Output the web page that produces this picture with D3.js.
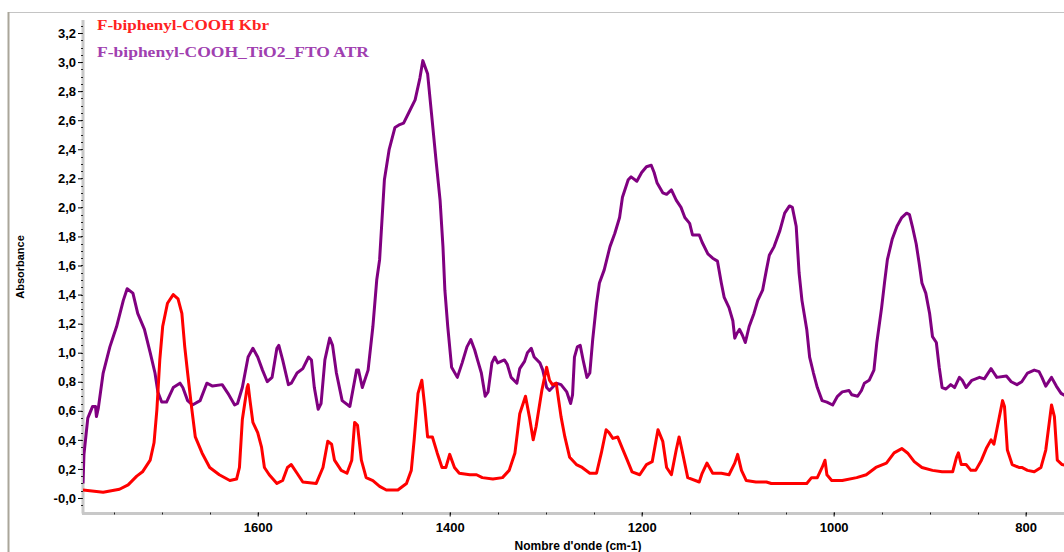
<!DOCTYPE html>
<html>
<head>
<meta charset="utf-8">
<script src="https://cdn.jsdelivr.net/npm/d3@7"></script>
<style>
  html, body { margin: 0; padding: 0; background: #fff; }
  #chart { width: 1064px; height: 552px; overflow: hidden; }
</style>
</head>
<body>
<div id="chart"></div>
<script>
// Spectra: [wavenumber (cm-1), absorbance]
const kbrSpectrum = [
  [1782,0.055],[1761,0.04],[1744,0.06],[1735,0.09],[1726,0.15],[1720,0.18],[1712,0.26],[1708,0.38],
  [1705,0.61],[1702,0.95],[1699,1.18],[1694,1.34],[1688,1.40],[1683,1.37],[1679,1.27],[1676,1.04],
  [1673,0.86],[1669,0.63],[1665,0.42],[1658,0.31],[1650,0.21],[1640,0.16],[1629,0.12],[1622,0.13],
  [1619,0.21],[1616,0.54],[1611,0.76],[1610,0.78],[1608,0.67],[1605,0.52],[1600,0.45],[1596,0.35],
  [1593,0.21],[1588,0.16],[1580,0.10],[1574,0.12],[1569,0.21],[1565,0.23],[1559,0.17],[1553,0.11],
  [1539,0.10],[1532,0.21],[1527,0.39],[1523,0.37],[1520,0.26],[1513,0.19],[1507,0.17],[1502,0.26],
  [1499,0.52],[1496,0.50],[1492,0.26],[1487,0.14],[1480,0.12],[1473,0.08],[1466,0.055],[1454,0.055],
  [1445,0.10],[1440,0.19],[1437,0.40],[1433,0.72],[1429,0.81],[1426,0.63],[1423,0.42],[1418,0.42],
  [1413,0.31],[1408,0.21],[1404,0.21],[1400,0.30],[1395,0.21],[1390,0.17],[1379,0.16],[1372,0.16],
  [1366,0.14],[1355,0.13],[1345,0.14],[1338,0.19],[1332,0.31],[1327,0.58],[1321,0.70],[1317,0.56],
  [1313,0.40],[1310,0.49],[1304,0.74],[1299,0.90],[1296,0.81],[1293,0.78],[1289,0.79],[1284,0.56],
  [1280,0.42],[1275,0.28],[1268,0.23],[1262,0.21],[1254,0.17],[1247,0.17],[1242,0.31],[1237,0.47],
  [1234,0.45],[1230,0.41],[1225,0.42],[1220,0.34],[1215,0.26],[1210,0.18],[1202,0.16],[1195,0.23],
  [1189,0.25],[1183,0.47],[1178,0.39],[1174,0.21],[1169,0.16],[1164,0.33],[1161,0.42],[1158,0.33],
  [1152,0.14],[1140,0.11],[1137,0.17],[1132,0.24],[1126,0.17],[1117,0.17],[1109,0.16],[1103,0.24],
  [1100,0.30],[1096,0.19],[1091,0.12],[1081,0.11],[1070,0.11],[1065,0.10],[1043,0.10],[1028,0.10],
  [1023,0.14],[1017,0.14],[1012,0.21],[1009,0.26],[1007,0.16],[1002,0.12],[991,0.12],[976,0.14],
  [966,0.16],[956,0.21],[945,0.24],[937,0.31],[929,0.34],[923,0.31],[916,0.25],[908,0.21],
  [897,0.19],[887,0.18],[876,0.18],[872,0.28],[870,0.31],[867,0.23],[862,0.23],[857,0.19],
  [852,0.19],[846,0.26],[841,0.34],[836,0.40],[833,0.37],[830,0.47],[824,0.67],[822,0.63],
  [819,0.33],[814,0.23],[807,0.21],[804,0.21],[798,0.19],[791,0.18],[784,0.21],[779,0.33],
  [773,0.64],[770,0.56],[767,0.26],[762,0.23],[755,0.22]
];

const atrSpectrum = [
  [1782,0.10],[1781,0.30],[1777,0.55],[1772,0.63],[1769,0.63],[1768,0.56],[1766,0.62],[1761,0.86],
  [1754,1.04],[1747,1.18],[1740,1.36],[1736,1.44],[1730,1.41],[1725,1.27],[1718,1.16],[1712,1.00],
  [1707,0.86],[1704,0.73],[1700,0.66],[1695,0.66],[1688,0.76],[1681,0.79],[1678,0.76],[1673,0.67],
  [1668,0.64],[1660,0.67],[1653,0.79],[1647,0.77],[1637,0.78],[1631,0.72],[1624,0.64],[1621,0.65],
  [1616,0.76],[1610,0.97],[1605,1.03],[1600,0.97],[1595,0.88],[1590,0.80],[1585,0.83],[1580,1.03],
  [1578,1.05],[1574,0.95],[1568,0.78],[1565,0.79],[1559,0.86],[1553,0.89],[1547,0.97],[1544,0.95],
  [1541,0.76],[1537,0.61],[1534,0.65],[1530,0.95],[1525,1.10],[1522,1.05],[1518,0.86],[1512,0.67],
  [1504,0.63],[1497,0.88],[1495,0.88],[1491,0.76],[1485,0.88],[1480,1.18],[1476,1.50],[1473,1.64],
  [1468,2.19],[1463,2.40],[1457,2.55],[1452,2.57],[1448,2.58],[1442,2.66],[1436,2.74],[1431,2.89],
  [1428,3.01],[1423,2.92],[1419,2.65],[1414,2.31],[1410,2.05],[1407,1.73],[1405,1.43],[1402,1.18],
  [1398,0.90],[1392,0.83],[1387,0.93],[1382,1.04],[1378,1.09],[1374,1.02],[1371,0.95],[1367,0.86],
  [1363,0.70],[1360,0.73],[1356,0.93],[1353,0.97],[1350,0.93],[1343,0.95],[1340,0.92],[1336,0.83],
  [1330,0.79],[1327,0.89],[1322,0.94],[1319,1.00],[1315,1.03],[1312,0.97],[1306,0.93],[1303,0.88],
  [1299,0.76],[1296,0.74],[1293,0.76],[1289,0.79],[1284,0.78],[1278,0.73],[1274,0.65],[1272,0.71],
  [1270,0.97],[1267,1.04],[1264,1.05],[1261,0.95],[1257,0.83],[1254,0.86],[1251,1.09],[1247,1.34],
  [1244,1.48],[1239,1.57],[1233,1.73],[1228,1.82],[1223,1.93],[1220,2.07],[1214,2.19],[1211,2.21],
  [1205,2.18],[1200,2.24],[1195,2.28],[1190,2.29],[1187,2.24],[1184,2.17],[1178,2.10],[1174,2.09],
  [1169,2.12],[1164,2.05],[1159,2.00],[1155,1.93],[1150,1.89],[1147,1.81],[1140,1.81],[1137,1.76],
  [1131,1.68],[1126,1.65],[1121,1.63],[1117,1.48],[1114,1.38],[1109,1.31],[1105,1.22],[1103,1.10],
  [1101,1.13],[1098,1.16],[1095,1.12],[1092,1.07],[1088,1.18],[1083,1.27],[1079,1.36],[1074,1.43],
  [1070,1.57],[1067,1.67],[1062,1.73],[1056,1.84],[1051,1.96],[1046,2.01],[1043,2.00],[1039,1.87],
  [1036,1.55],[1033,1.36],[1028,1.16],[1025,0.97],[1021,0.86],[1017,0.76],[1012,0.67],[1007,0.66],
  [1001,0.64],[996,0.70],[991,0.73],[984,0.74],[981,0.71],[975,0.70],[971,0.74],[968,0.79],
  [963,0.81],[958,0.88],[955,1.07],[950,1.31],[947,1.48],[944,1.64],[939,1.78],[934,1.87],
  [929,1.93],[924,1.96],[921,1.95],[918,1.87],[914,1.75],[911,1.62],[908,1.48],[904,1.41],
  [900,1.27],[897,1.11],[893,1.07],[890,0.90],[887,0.76],[883,0.75],[878,0.78],[874,0.76],
  [869,0.83],[866,0.81],[862,0.76],[856,0.81],[848,0.83],[843,0.82],[836,0.89],[833,0.86],
  [830,0.83],[820,0.84],[815,0.80],[809,0.78],[804,0.80],[798,0.86],[791,0.88],[786,0.87],
  [783,0.83],[779,0.77],[773,0.83],[768,0.77],[763,0.72],[758,0.70]
];

const seriesNames = ["F-biphenyl-COOH Kbr", "F-biphenyl-COOH_TiO2_FTO ATR"];
const xTicks = [1600, 1400, 1200, 1000, 800];
const yTicks = [0, 0.2, 0.4, 0.6, 0.8, 1.0, 1.2, 1.4, 1.6, 1.8, 2.0, 2.2, 2.4, 2.6, 2.8, 3.0, 3.2];

const width = 1064, height = 552;
const plotLeft = 83, plotRight = 1064, plotTop = 18.5, plotBottom = 512.5;

const svg = d3.select("#chart").append("svg")
  .attr("width", width)
  .attr("height", height);

const x = d3.scaleLinear().domain([1782, 760]).range([plotLeft, plotRight]);
const y = d3.scaleLinear().domain([-0.1, 3.3]).range([plotBottom, plotTop]);

// window frame
svg.append("line").attr("x1", 8).attr("x2", width).attr("y1", 12.5).attr("y2", 12.5)
  .attr("stroke", "#c4c4c4").attr("stroke-width", 1);
svg.append("line").attr("x1", 8.5).attr("x2", 8.5).attr("y1", 12).attr("y2", height)
  .attr("stroke", "#aaa69a").attr("stroke-width", 2);

svg.append("clipPath").attr("id", "plot")
  .append("rect").attr("x", plotLeft).attr("y", 12)
  .attr("width", plotRight - plotLeft).attr("height", plotBottom - 12);

// axis lines
svg.append("line").attr("x1", plotLeft).attr("x2", plotLeft).attr("y1", 20).attr("y2", plotBottom + 1)
  .attr("stroke", "#c8c8c8").attr("stroke-width", 3);
svg.append("line").attr("x1", plotLeft - 1).attr("x2", width).attr("y1", plotBottom + 1).attr("y2", plotBottom + 1)
  .attr("stroke", "#c8c8c8").attr("stroke-width", 3);

// y minor ticks
const yMinor = d3.range(-0.05, 3.3, 0.05);
svg.append("g").selectAll("line").data(yMinor).join("line")
  .attr("x1", plotLeft - 2).attr("x2", plotLeft)
  .attr("y1", d => Math.round(y(d)) + 0.5).attr("y2", d => Math.round(y(d)) + 0.5)
  .attr("stroke", "#222").attr("stroke-width", 1);

const yAxis = svg.append("g")
  .attr("transform", `translate(${plotLeft - 1},0)`)
  .call(d3.axisLeft(y).tickValues(yTicks).tickSize(4).tickPadding(2)
    .tickFormat(d => d === 0 ? "-0,0" : d3.format(".1f")(d).replace(".", ",")));
yAxis.select(".domain").remove();
yAxis.selectAll("text")
  .attr("font-family", "Liberation Sans, Arial, sans-serif")
  .attr("font-weight", "bold").attr("font-size", 13).attr("fill", "#000");

// x minor ticks every 50
const xMinor = d3.range(1750, 755, -50);
svg.append("g").selectAll("line").data(xMinor).join("line")
  .attr("x1", d => Math.round(x(d)) + 0.5).attr("x2", d => Math.round(x(d)) + 0.5)
  .attr("y1", plotBottom).attr("y2", plotBottom + 2)
  .attr("stroke", "#222").attr("stroke-width", 1);

const xAxis = svg.append("g")
  .attr("transform", `translate(0,${plotBottom})`)
  .call(d3.axisBottom(x).tickValues(xTicks).tickSize(4).tickPadding(6).tickFormat(d3.format("d")));
xAxis.select(".domain").remove();
xAxis.selectAll("text")
  .attr("font-family", "Liberation Sans, Arial, sans-serif")
  .attr("font-weight", "bold").attr("font-size", 13).attr("fill", "#000");

// curves
const line = d3.line().x(d => x(d[0])).y(d => y(d[1]));
const plot = svg.append("g").attr("clip-path", "url(#plot)");

plot.append("path").datum(atrSpectrum)
  .attr("fill", "none").attr("stroke", "#800080").attr("stroke-width", 3)
  .attr("stroke-linejoin", "round").attr("d", line);

plot.append("path").datum(kbrSpectrum)
  .attr("fill", "none").attr("stroke", "#ff0000").attr("stroke-width", 3)
  .attr("stroke-linejoin", "round").attr("d", line);

// legend (wide bold serif, as in the original software)
const legendColors = ["#ff2222", "#a040b0"];
const legendWidths = [172, 272];
svg.append("g").selectAll("text").data(seriesNames).join("text")
  .attr("x", 97).attr("y", (d, i) => 30 + i * 27)
  .attr("font-family", "Liberation Serif, Times New Roman, serif")
  .attr("font-weight", "bold").attr("font-size", 15)
  .attr("textLength", (d, i) => legendWidths[i])
  .attr("lengthAdjust", "spacingAndGlyphs")
  .attr("fill", (d, i) => legendColors[i])
  .text(d => d);

// axis titles
svg.append("text")
  .attr("x", 578).attr("y", 550)
  .attr("text-anchor", "middle")
  .attr("font-family", "Liberation Sans, Arial, sans-serif")
  .attr("font-weight", "bold").attr("font-size", 12)
  .text("Nombre d'onde (cm-1)");

svg.append("text")
  .attr("transform", "translate(24,267) rotate(-90)")
  .attr("text-anchor", "middle")
  .attr("font-family", "Liberation Sans, Arial, sans-serif")
  .attr("font-weight", "bold").attr("font-size", 11)
  .text("Absorbance");
</script>
</body>
</html>
